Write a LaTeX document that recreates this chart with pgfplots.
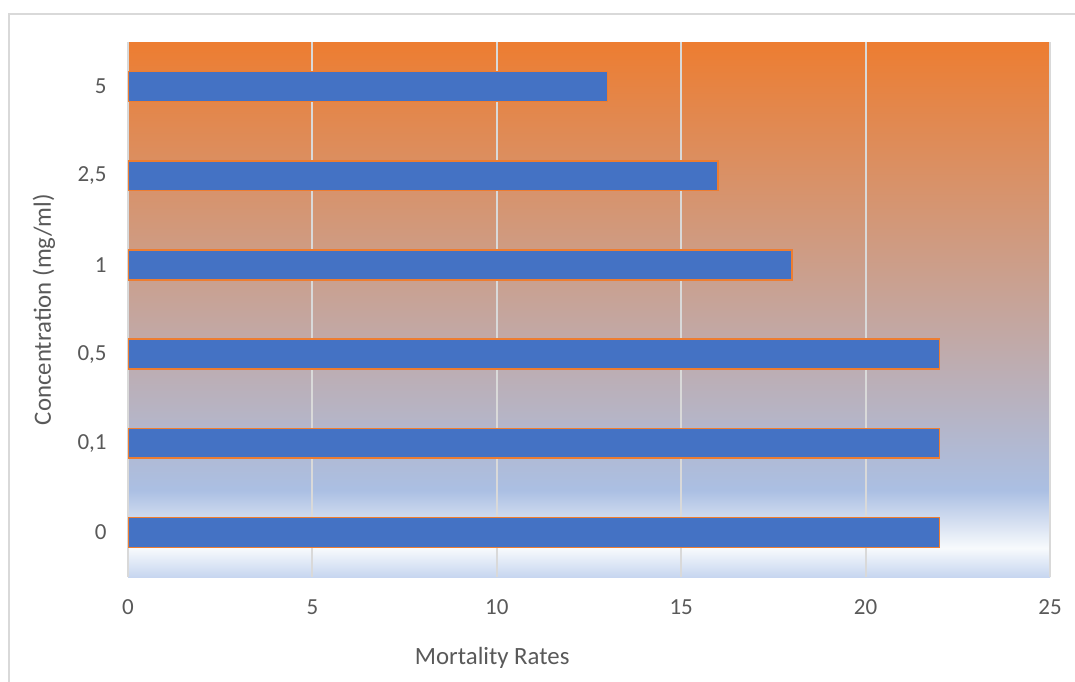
\documentclass[border=0pt]{standalone}
\usepackage{pgfplots}
\pgfplotsset{compat=1.18}
\usepackage{fontspec}
\setmainfont{Carlito}
\definecolor{barblue}{HTML}{4472C4}
\definecolor{barorange}{HTML}{ED7D31}
\definecolor{txt}{HTML}{595959}
\definecolor{gridc}{HTML}{D9D9D9}
\pgfdeclareverticalshading{bgshade}{100bp}{rgb(0bp)=(0.78,0.84,0.94); rgb(25bp)=(0.78,0.84,0.94); rgb(27.7bp)=(0.97,0.98,0.99); rgb(33.1bp)=(0.67,0.75,0.89); rgb(75bp)=(0.929,0.49,0.192); rgb(100bp)=(0.929,0.49,0.192)}
\begin{document}
\begin{tikzpicture}
\begin{axis}[
  at={(64pt,52pt)}, anchor=south west,
  scale only axis, width=461pt, height=267.5pt,
  xbar, bar width=14.9pt,
  xmin=0, xmax=25, ymin=-0.5, ymax=5.5,
  xtick={0,5,10,15,20,25},
  ytick={0,1,2,3,4,5},
  yticklabels={0,{0,1},{0,5},1,{2,5},5},
  xmajorgrids, major grid style={gridc, line width=1pt},
  extra x ticks={0}, extra x tick style={grid=major, xticklabels={}},
  axis line style={draw=none},
  major tick length=0pt,
  axis background/.style={shading=bgshade},
  /pgf/number format/assume math mode=true,
  tick label style={font=\fontsize{11.5}{14}\selectfont, text=txt},
  xticklabel style={anchor=center, yshift=-15pt},
  yticklabel style={anchor=east, inner sep=0pt, xshift=-10.5pt},
  xlabel={Mortality Rates},
  ylabel={Concentration (mg/ml)},
  label style={font=\fontsize{12.4}{15}\selectfont, text=txt},
  xlabel style={at={(axis description cs:0.395,-0.151)}, anchor=center},
  ylabel style={at={(axis description cs:-0.0911,0.5)}, anchor=center},
]
\addplot[fill=barblue, draw=barorange, line width=0.8pt] coordinates {
  (22,0) (22,1) (22,2) (18,3) (16,4) (13,5)
};
\end{axis}
\draw[gridc, line width=1.3pt] (4.5pt,-10pt) -- (4.5pt,333.5pt) -- (560pt,333.5pt);
\pgfresetboundingbox
\path[use as bounding box] (0,0) rectangle (537.5pt,340.5pt);
\end{tikzpicture}
\end{document}
